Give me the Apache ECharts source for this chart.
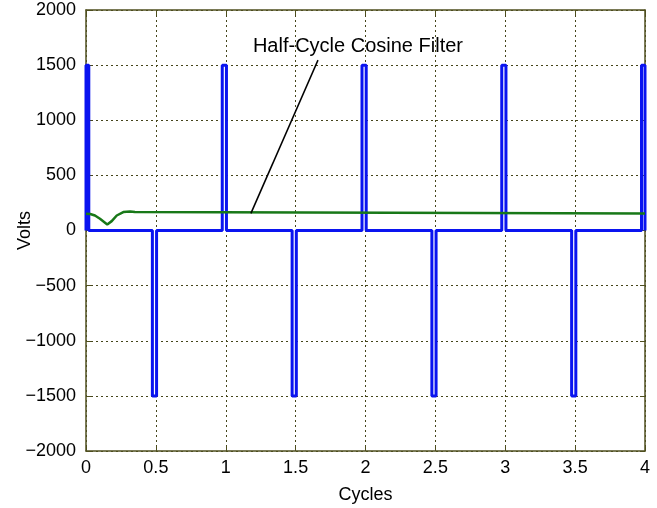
<!DOCTYPE html>
<html><head><meta charset="utf-8">
<script src="https://cdn.jsdelivr.net/npm/echarts@6/dist/echarts.min.js"></script>
<style>html,body{margin:0;padding:0;background:#fff}#c{width:657px;height:508px}</style>
</head><body><div id="c"></div>
<script>
// Pulse train (blue): start/end cycle and amplitude of each pulse
var pulseStart = [0, 0.475, 0.975, 1.475, 1.975, 2.475, 2.975, 3.475, 3.975];
var pulseEnd   = [0.02, 0.505, 1.005, 1.505, 2.005, 2.505, 3.005, 3.505, 4.0];
var pulseValue = [1500, -1500, 1500, -1500, 1500, -1500, 1500, -1500, 1500];
// Half-cycle cosine filter output (green)
var filterX = [0, 0.03, 0.064, 0.1, 0.152, 0.184, 0.22, 0.267, 0.315, 0.35, 0.363, 4];
var filterY = [152, 150, 136, 106, 55, 85, 136, 167, 173, 167, 155, 155];
// Axis ticks
var xTicks = [0, 0.5, 1, 1.5, 2, 2.5, 3, 3.5, 4];
var yTicks = [-2000, -1500, -1000, -500, 0, 500, 1000, 1500, 2000];
// Annotation
var annText = 'Half-Cycle Cosine Filter';
var annLineFrom = [1.18, 155];
var annLineTo = [1.66, 1545];
var annTextAt = [1.946, 1673];

var pulseData = [];
for (var i = 0; i < pulseStart.length; i++) {
  pulseData.push([pulseStart[i], 0]);
  pulseData.push([pulseStart[i], pulseValue[i]]);
  pulseData.push([pulseEnd[i], pulseValue[i]]);
  pulseData.push([pulseEnd[i], 0]);
}
var filterData = filterX.map(function (x, i) { return [x, filterY[i]]; });

var FONT = 'Liberation Sans, Arial, sans-serif';
var frame = '#4f4f1f';
var gridC = '#45451a';
function fmt(v) { return String(v).replace('-', '\u2212'); }

var chart = echarts.init(document.getElementById('c'), null, {renderer: 'canvas'});
var common = {
  type: 'value',
  axisLine: {show: true, onZero: false, lineStyle: {color: frame, width: 1.5}},
  axisTick: {show: true, inside: true, length: 5, lineStyle: {color: frame}}
};
chart.setOption({
  animation: false,
  grid: {left: 86, right: 12, top: 10, bottom: 57, containLabel: false, outerBoundsMode: 'none'},
  xAxis: [
    Object.assign({}, common, {
      min: 0, max: 4, interval: 0.5, position: 'bottom',
      name: 'Cycles', nameLocation: 'middle', nameGap: 35, nameMoveOverlap: false,
      nameTextStyle: {fontFamily: FONT, fontSize: 18, color: '#000'},
      axisLabel: {fontFamily: FONT, fontSize: 18, color: '#000', margin: 8, formatter: fmt},
      splitLine: {show: true, lineStyle: {color: gridC, type: [2, 3], width: 1}}
    }),
    Object.assign({}, common, {
      min: 0, max: 4, interval: 0.5, position: 'top',
      axisLabel: {show: false}, splitLine: {show: false}
    })
  ],
  yAxis: [
    Object.assign({}, common, {
      min: -2000, max: 2000, interval: 500, position: 'left',
      name: 'Volts', nameLocation: 'middle', nameGap: 52, nameRotate: 90, nameMoveOverlap: false,
      nameTextStyle: {fontFamily: FONT, fontSize: 18, color: '#000'},
      axisLabel: {fontFamily: FONT, fontSize: 18, color: '#000', margin: 10, formatter: fmt},
      splitLine: {show: true, lineStyle: {color: gridC, type: [2, 3], width: 1}}
    }),
    Object.assign({}, common, {
      min: -2000, max: 2000, interval: 500, position: 'right',
      axisLabel: {show: false}, splitLine: {show: false}
    })
  ],
  series: [
    {
      type: 'line', data: filterData, showSymbol: false, symbol: 'none',
      lineStyle: {color: '#187818', width: 2.5}, z: 3,
      markLine: {
        silent: true, symbol: 'none', animation: false,
        lineStyle: {color: '#000', width: 1.5, type: 'solid'},
        label: {show: false},
        data: [[{coord: annLineFrom}, {coord: annLineTo}]]
      },
      markPoint: {
        silent: true, symbol: 'rect', symbolSize: 1,
        itemStyle: {color: 'rgba(0,0,0,0)'},
        label: {show: true, position: 'inside', formatter: annText,
                fontFamily: FONT, fontSize: 20, color: '#000'},
        data: [{coord: annTextAt}]
      }
    },
    {
      type: 'line', data: pulseData, showSymbol: false, symbol: 'none',
      lineStyle: {color: '#0a14f0', width: 3}, z: 2
    }
  ]
});
</script></body></html>
